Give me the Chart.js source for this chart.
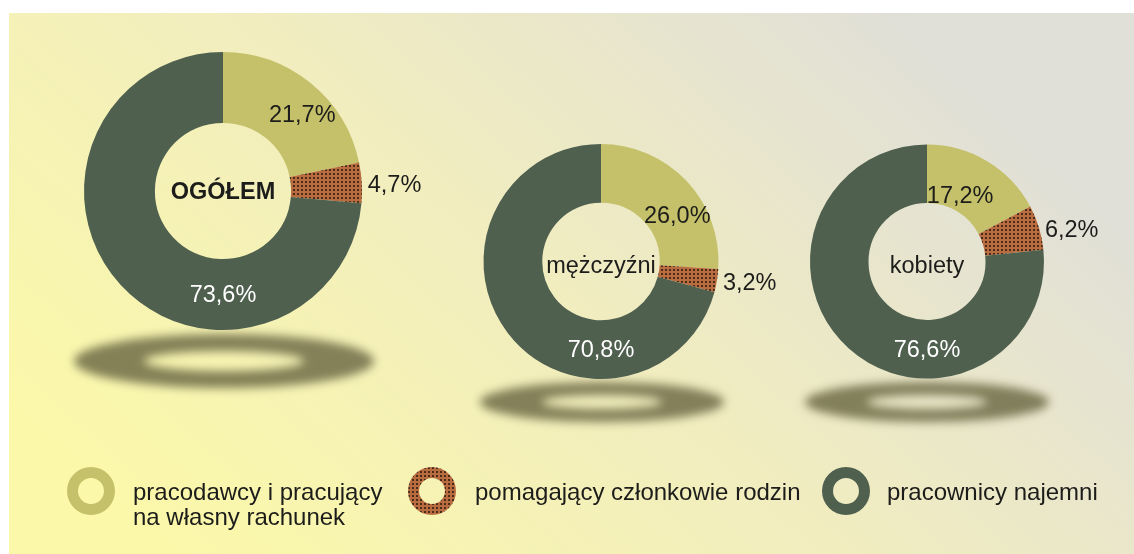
<!DOCTYPE html>
<html><head><meta charset="utf-8">
<script src="https://cdn.jsdelivr.net/npm/chart.js@4.4.0/dist/chart.umd.min.js"></script>
<style>
html,body{margin:0;padding:0;width:1134px;height:554px;overflow:hidden;background:#fff;font-family:"Liberation Sans",Arial,sans-serif;}
canvas{position:absolute;left:0;top:0;}
.ch{pointer-events:none;}
.legtext{position:absolute;font-size:24px;line-height:25px;color:#1c1c1a;white-space:pre-line;}
</style></head><body>
<canvas id="bg" width="1134" height="554"></canvas>
<canvas id="c0" class="ch" width="1134" height="554"></canvas>
<canvas id="c1" class="ch" width="1134" height="554"></canvas>
<canvas id="c2" class="ch" width="1134" height="554"></canvas>
<div id="legend"></div>
<script>
// ---- data ----
const categories = ['pracodawcy i pracujący\nna własny rachunek', 'pomagający członkowie rodzin', 'pracownicy najemni'];
const groups = ['OGÓŁEM', 'mężczyźni', 'kobiety'];
const ogolem = [21.7, 4.7, 73.6];
const mezczyzni = [26.0, 3.2, 70.8];
const kobiety = [17.2, 6.2, 76.6];
const seriesByGroup = [ogolem, mezczyzni, kobiety];

// ---- layout / style ----
const W = 1134, H = 554;
const rings = [
  {cx: 223, cy: 191, r: 139, cutout: '49%', bold: true, nudge: [14, 5]},
  {cx: 601, cy: 261.5, r: 117.5, cutout: '50%', bold: false, nudge: [12, 15]},
  {cx: 927, cy: 261.5, r: 117, cutout: '50%', bold: false, nudge: [-12, 10]}
];
const shadows = [
  {cx: 224, cy: 361, orx: 150, ory: 27, irx: 80, iry: 10},
  {cx: 602, cy: 402, orx: 122, ory: 20, irx: 60, iry: 7},
  {cx: 927, cy: 402, orx: 122, ory: 20, irx: 60, iry: 7}
];
const legendPos = [
  {icx: 91, icy: 491, tx: 133, ty: 479},
  {icx: 432, icy: 491, tx: 475, ty: 479},
  {icx: 846, icy: 491, tx: 887, ty: 479}
];
const FONT = '"Liberation Sans", Arial, sans-serif';

function brownPattern() {
  const c = document.createElement('canvas');
  c.width = 4; c.height = 4;
  const x = c.getContext('2d');
  x.fillStyle = '#b96c40'; x.fillRect(0, 0, 4, 4);
  x.fillStyle = '#4a2c18'; x.fillRect(1, 1, 2, 2);
  return x.createPattern(c, 'repeat');
}
const colors = ['#c5c16a', brownPattern(), '#4f604f'];

// ---- background ----
(function () {
  const ctx = document.getElementById('bg').getContext('2d');
  ctx.fillStyle = '#ffffff'; ctx.fillRect(0, 0, W, H);
  const g = ctx.createLinearGradient(250, 620, 850, -40);
  g.addColorStop(0, '#fbf8aa');
  g.addColorStop(0.5, '#f1edbf');
  g.addColorStop(1, '#e0dfd8');
  ctx.fillStyle = g;
  ctx.fillRect(9, 13, W - 9, H - 13);
  ctx.save();
  ctx.filter = 'blur(5px)';
  ctx.fillStyle = 'rgba(112,108,72,0.85)';
  shadows.forEach(s => {
    ctx.beginPath();
    ctx.ellipse(s.cx, s.cy, s.orx, s.ory, 0, 0, Math.PI * 2);
    ctx.ellipse(s.cx, s.cy, s.irx, s.iry, 0, 0, Math.PI * 2);
    ctx.fill('evenodd');
  });
  ctx.restore();
})();

const fmt = v => v.toFixed(1).replace('.', ',') + '%';

const ringLabels = {
  id: 'ringLabels',
  afterDatasetsDraw(chart, args, opts) {
    const ctx = chart.ctx;
    const arcs = chart.getDatasetMeta(0).data;
    const vals = chart.data.datasets[0].data;
    const a = arcs[0];
    const cx = a.x, cy = a.y, ir = a.innerRadius, or = a.outerRadius;
    ctx.save();
    ctx.textBaseline = 'middle';
    ctx.textAlign = 'center';
    ctx.fillStyle = '#1c1c1a';
    ctx.font = (opts.bold ? 'bold ' : '') + '23.5px ' + FONT;
    ctx.fillText(opts.title, cx, cy + (opts.bold ? 2 : 5));
    ctx.font = '23.5px ' + FONT;
    const p0 = arcs[0].tooltipPosition();
    ctx.fillText(fmt(vals[0]), p0.x + opts.nudge[0], p0.y + opts.nudge[1]);
    const b = arcs[1];
    const ma = (b.startAngle + b.endAngle) / 2;
    ctx.textAlign = 'left';
    ctx.fillText(fmt(vals[1]), cx + Math.cos(ma) * or + 6, cy + Math.sin(ma) * or + 3);
    ctx.textAlign = 'center';
    ctx.fillStyle = '#ffffff';
    ctx.fillText(fmt(vals[2]), cx, cy + (ir + or) / 2 + 1);
    ctx.restore();
  }
};

rings.forEach((rg, i) => {
  new Chart(document.getElementById('c' + i), {
    type: 'doughnut',
    data: {
      labels: categories,
      datasets: [{data: seriesByGroup[i], backgroundColor: colors, borderWidth: 0, hoverOffset: 0, offset: 0}]
    },
    options: {
      responsive: false, animation: false, events: [],
      cutout: rg.cutout,
      layout: {padding: {left: rg.cx - rg.r, top: rg.cy - rg.r, right: W - rg.cx - rg.r, bottom: H - rg.cy - rg.r}},
      plugins: {legend: {display: false}, tooltip: {enabled: false},
        ringLabels: {title: groups[i], bold: rg.bold, nudge: rg.nudge}}
    },
    plugins: [ringLabels]
  });
});

// ---- legend ----
const legend = document.getElementById('legend');
categories.forEach((cat, i) => {
  const lp = legendPos[i];
  const cv = document.createElement('canvas');
  cv.width = 50; cv.height = 50;
  cv.style.left = (lp.icx - 25) + 'px';
  cv.style.top = (lp.icy - 25) + 'px';
  legend.appendChild(cv);
  new Chart(cv, {
    type: 'doughnut',
    data: {labels: [cat], datasets: [{data: [1], backgroundColor: [colors[i]], borderWidth: 0, hoverOffset: 0}]},
    options: {responsive: false, animation: false, events: [], cutout: '54%',
      layout: {padding: 1}, plugins: {legend: {display: false}, tooltip: {enabled: false}}}
  });
  const t = document.createElement('div');
  t.className = 'legtext';
  t.style.left = lp.tx + 'px';
  t.style.top = lp.ty + 'px';
  t.textContent = cat;
  legend.appendChild(t);
});
</script>
</body></html>
